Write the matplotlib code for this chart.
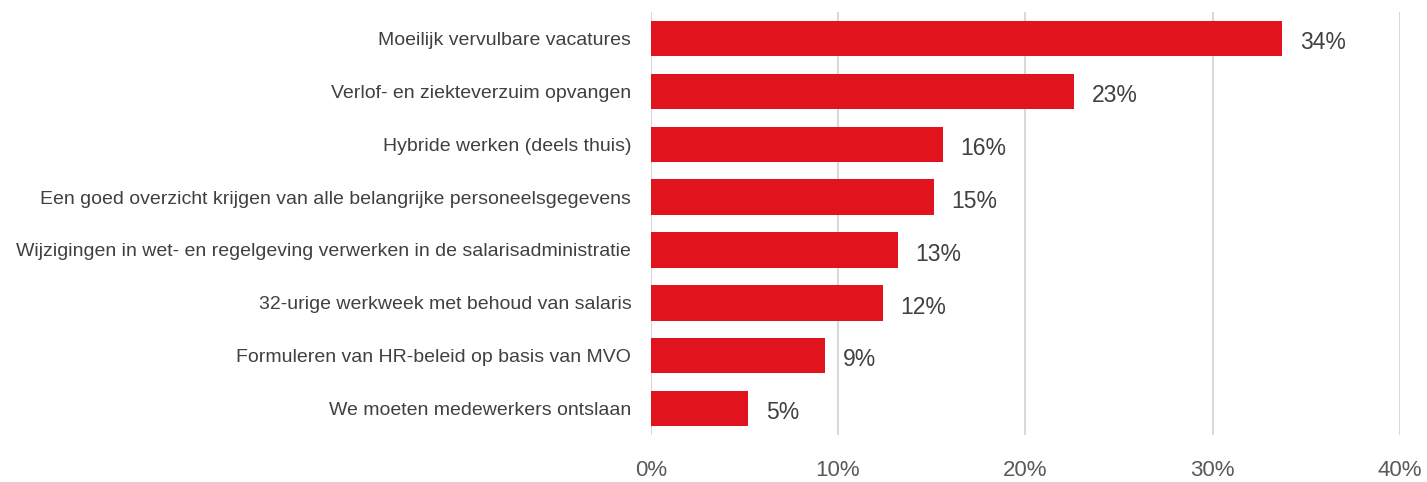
import matplotlib.pyplot as plt

categories = [
    "Moeilijk vervulbare vacatures",
    "Verlof- en ziekteverzuim opvangen",
    "Hybride werken (deels thuis)",
    "Een goed overzicht krijgen van alle belangrijke personeelsgegevens",
    "Wijzigingen in wet- en regelgeving verwerken in de salarisadministratie",
    "32-urige werkweek met behoud van salaris",
    "Formuleren van HR-beleid op basis van MVO",
    "We moeten medewerkers ontslaan",
]
values = [33.7, 22.6, 15.6, 15.1, 13.2, 12.4, 9.3, 5.2]
xticks = [0, 10, 20, 30, 40]

plt.rcParams['font.family'] = ['Liberation Sans', 'DejaVu Sans']

fig = plt.figure(figsize=(14.27, 4.82), dpi=100)
ax = fig.add_axes([0.456, 0.0975, 0.525, 0.8775])

y = list(range(len(categories)))
ax.barh(y, values, height=0.67, color='#E1141E', zorder=3)
ax.set_ylim(len(categories) - 0.5, -0.5)
ax.set_xlim(0, 40)

for yi, v in zip(y, values):
    ax.text(v + 0.95, yi + 0.08, f"{v:.0f}%", va='center', ha='left',
            fontsize=16.5, color='#404040')

ax.set_yticks(y)
ax.set_yticklabels(categories, fontsize=14, color='#404040')
ax.set_xticks(xticks)
ax.set_xticklabels([f"{t}%" for t in xticks], fontsize=16, color='#595959')
ax.tick_params(axis='y', length=0, pad=14)
ax.tick_params(axis='x', length=0, pad=18)

ax.grid(axis='x', color='#D9D9D9', linewidth=1.5, zorder=0)
for s in ax.spines.values():
    s.set_visible(False)

fig.savefig("out.png", dpi=100)
